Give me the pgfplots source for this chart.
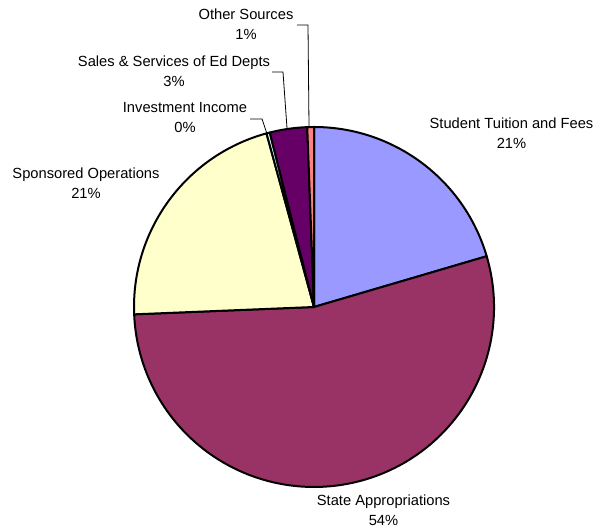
\documentclass[border=0pt]{standalone}
\usepackage{pgfplots}
\usepackage{pgfplotstable}
\pgfplotsset{compat=1.18}
\usepackage{fontspec}
\setmainfont{Liberation Sans}
\definecolor{tuition}{HTML}{9999FF}
\definecolor{state}{HTML}{993366}
\definecolor{sponsored}{HTML}{FFFFCC}
\definecolor{invest}{HTML}{CCFFFF}
\definecolor{sales}{HTML}{660066}
\definecolor{other}{HTML}{FF8080}
% share of each source, percent, clockwise from the top
\pgfplotstableread[col sep=comma]{
value,color
20.45,tuition
53.9,state
21.4,sponsored
0.3,invest
3.35,sales
0.6,other
}\piedata
\begin{document}
\begin{tikzpicture}
\begin{axis}[
  x=1bp, y=1bp,
  xmin=0, xmax=595, ymin=0, ymax=531,
  hide axis, clip=false,
]
\path (axis cs:0,0) rectangle (axis cs:595,531);
\def\cx{314}
\def\cy{224}
\def\rr{180}
\def\startang{90}
\pgfplotsforeachungrouped \i in {0,...,5}{%
  \pgfplotstablegetelem{\i}{value}\of\piedata
  \let\v=\pgfplotsretval
  \pgfplotstablegetelem{\i}{color}\of\piedata
  \let\c=\pgfplotsretval
  \pgfmathsetmacro\endang{\startang-3.6*\v}%
  \pgfmathsetmacro\sx{\cx+\rr*cos(\startang)}%
  \pgfmathsetmacro\sy{\cy+\rr*sin(\startang)}%
  \edef\cmd{\noexpand\filldraw[fill=\c, draw=black, line width=2bp, line join=round]
    (axis cs:\cx,\cy) -- (axis cs:\sx,\sy)
    arc[start angle=\startang, end angle=\endang, radius=\rr] -- cycle;}%
  \cmd
  \global\let\startang=\endang
}
% leader lines
\draw[line width=0.8bp] (axis cs:297,506) -- (axis cs:308,506) -- (axis cs:309,405);
\draw[line width=0.8bp] (axis cs:272,459) -- (axis cs:283,459) -- (axis cs:287,403);
\draw[line width=0.8bp] (axis cs:250,412) -- (axis cs:262,412) -- (axis cs:267,397);
% labels
\tikzset{lbl/.style={align=center, inner sep=0pt, font=\fontsize{14.7bp}{20bp}\selectfont}}
\node[lbl] at (axis cs:511.5,398) {Student Tuition and Fees\\21\%};
\node[lbl] at (axis cs:383.5,21) {State Appropriations\\54\%};
\node[lbl] at (axis cs:86,348) {Sponsored Operations\\21\%};
\node[lbl] at (axis cs:185,413) {Investment Income\\0\%};
\node[lbl] at (axis cs:174,459.5) {Sales \& Services of Ed Depts\\3\%};
\node[lbl] at (axis cs:246,507) {Other Sources\\1\%};
\end{axis}
\end{tikzpicture}
\end{document}
